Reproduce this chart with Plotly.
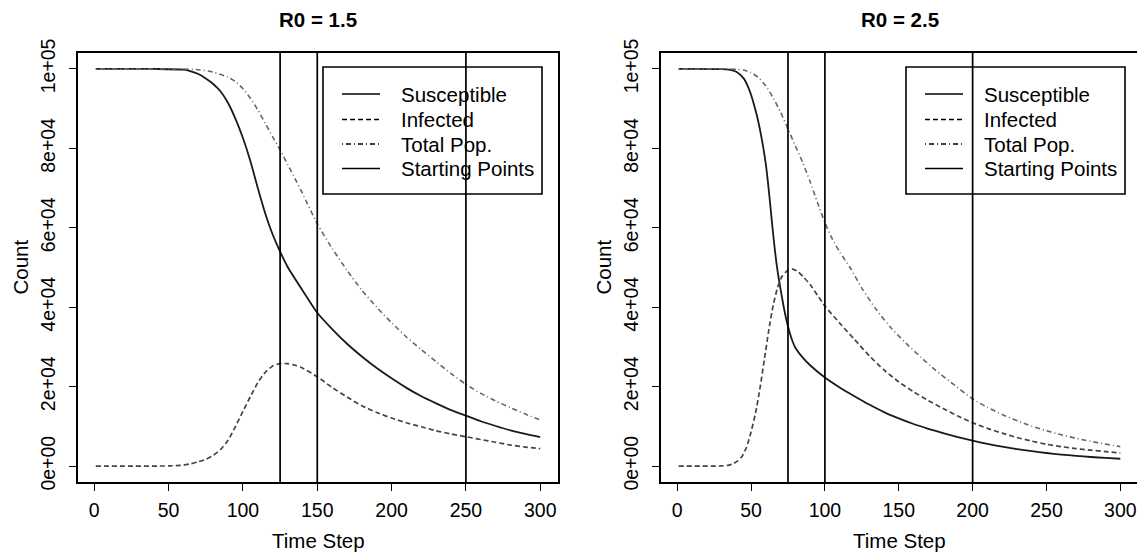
import plotly.graph_objects as go

# ---------------- data ----------------
# R0 = 1.5
t_s1 = [1, 40, 60, 65, 70, 75, 80, 85, 90, 95, 100, 105, 110, 115, 120, 125, 130, 140, 150, 160, 170, 180, 190, 200, 210, 220, 230, 240, 250, 260, 270, 280, 290, 300]
s1 = [100000, 99980, 99800, 99400, 98700, 97600, 96200, 94300, 91400, 87400, 82600, 76800, 70000, 63600, 58300, 54000, 50200, 44300, 38600, 34500, 30800, 27600, 24700, 22100, 19700, 17600, 15800, 14100, 12700, 11300, 10100, 9000, 8100, 7300]
t_i1 = [1, 50, 60, 65, 70, 75, 80, 85, 90, 95, 100, 105, 110, 115, 120, 125, 130, 135, 140, 150, 160, 170, 180, 190, 200, 210, 220, 230, 240, 250, 260, 270, 280, 290, 300]
i1 = [0, 50, 250, 600, 1100, 1700, 2700, 4200, 6500, 10000, 13800, 17500, 21000, 23600, 25200, 25800, 25800, 25400, 24700, 22500, 19800, 17400, 15200, 13500, 12100, 10900, 9900, 8900, 8100, 7400, 6700, 6000, 5300, 4800, 4400]
t_n1 = [1, 60, 70, 80, 90, 95, 100, 105, 110, 115, 120, 125, 130, 135, 140, 150, 160, 170, 180, 190, 200, 210, 220, 230, 240, 250, 260, 270, 280, 290, 300]
n1 = [100000, 99950, 99800, 99200, 97900, 96800, 95000, 92600, 89700, 86300, 82900, 79600, 76000, 72400, 68700, 61000, 54800, 49300, 44300, 40000, 36100, 32500, 29300, 26300, 23300, 20600, 18300, 16400, 14700, 13100, 11600]
start1 = [125, 150, 250]

# R0 = 2.5
t_s2 = [1, 30, 35, 40, 45, 48, 50, 52, 54, 56, 58, 60, 62, 64, 66, 68, 70, 72, 74, 76, 78, 80, 85, 90, 100, 110, 120, 130, 140, 150, 160, 170, 180, 190, 200, 210, 220, 230, 240, 250, 260, 270, 280, 290, 300]
s2 = [100000, 99950, 99800, 99300, 97600, 95500, 93500, 91000, 88200, 84800, 80800, 76000, 69500, 62000, 54800, 49000, 44500, 40300, 36700, 33800, 31500, 29800, 27300, 25400, 22300, 19800, 17600, 15500, 13600, 12000, 10600, 9400, 8300, 7300, 6400, 5600, 4900, 4300, 3800, 3300, 2900, 2600, 2300, 2050, 1850]
t_i2 = [1, 30, 35, 38, 41, 44, 47, 50, 53, 56, 59, 62, 65, 68, 71, 75, 78, 82, 86, 90, 95, 100, 110, 120, 130, 140, 150, 160, 170, 180, 190, 200, 210, 220, 230, 240, 250, 260, 270, 280, 290, 300]
i2 = [0, 50, 250, 600, 1300, 2500, 4800, 8600, 13300, 19500, 26800, 34200, 40500, 45000, 47800, 49300, 49600, 48900, 47400, 45700, 43000, 40300, 36000, 31900, 27800, 24200, 21200, 18700, 16500, 14500, 12600, 10900, 9500, 8300, 7200, 6300, 5500, 4900, 4400, 4000, 3650, 3300]
t_n2 = [1, 35, 40, 45, 50, 55, 60, 65, 70, 75, 80, 85, 90, 95, 100, 105, 110, 117, 125, 135, 145, 155, 165, 175, 185, 200, 210, 220, 236, 250, 260, 270, 286, 300]
n2 = [100000, 99950, 99900, 99700, 99100, 97800, 95700, 92700, 89100, 84900, 80600, 76400, 71600, 66300, 61300, 57200, 53900, 50000, 44800, 39300, 34700, 30900, 27400, 24100, 21200, 16900, 14800, 13000, 10600, 8900, 7900, 7000, 5800, 4900]
start2 = [75, 100, 200]

titles = ["R0 = 1.5", "R0 = 2.5"]
legend_labels = ["Susceptible", "Infected", "Total Pop.", "Starting Points"]
x_ticks = [0, 50, 100, 150, 200, 250, 300]
y_ticks = [0, 20000, 40000, 60000, 80000, 100000]
y_ticktext = ["0e+00", "2e+04", "4e+04", "6e+04", "8e+04", "1e+05"]

# ---------------- layout geometry ----------------
# the page body has an 8px margin, so the figure is sized to fit the window
OFF = 8
W, H = 1145 - OFF, 553 - OFF
FONT = "Liberation Sans, Arial, Helvetica, sans-serif"
def fx(p):
    return (p - OFF) / W
def fy(p):
    return 1 - (p - OFF) / H

panels = [
    dict(xa="x", ya="y", x0=78, x1=558, leg=323),
    dict(xa="x2", ya="y2", x0=661, x1=1138, leg=906),
]
top, bottom = 53, 482

styles = [
    dict(color="#1a1a1a", width=1.8, dash="solid"),
    dict(color="#444444", width=1.7, dash="5px,3px"),
    dict(color="#666666", width=1.6, dash="1px,3px,5px,3px"),
    dict(color="#000000", width=1.6, dash="solid"),
]

fig = go.Figure()
series = [
    [(t_s1, s1), (t_i1, i1), (t_n1, n1)],
    [(t_s2, s2), (t_i2, i2), (t_n2, n2)],
]
starts = [start1, start2]

shapes = []
annotations = []
for k, p in enumerate(panels):
    for j, (tx, vy) in enumerate(series[k]):
        fig.add_trace(go.Scatter(
            x=tx, y=vy, mode="lines", name=legend_labels[j],
            line=dict(color=styles[j]["color"], width=styles[j]["width"],
                      dash=styles[j]["dash"], shape="spline", smoothing=0.6),
            xaxis=p["xa"], yaxis=p["ya"], showlegend=False, hoverinfo="skip"))
    for s in starts[k]:
        shapes.append(dict(type="line", xref=p["xa"], yref=p["ya"] + " domain",
                           x0=s, x1=s, y0=0, y1=1,
                           line=dict(color="black", width=1.7)))
    cx = (p["x0"] + p["x1"]) / 2
    annotations.append(dict(text="<b>" + titles[k] + "</b>", xref="paper", yref="paper",
                            x=fx(cx), y=fy(19), xanchor="center", yanchor="middle",
                            showarrow=False, font=dict(family=FONT, size=20.5, color="black")))
    annotations.append(dict(text="Time Step", xref="paper", yref="paper",
                            x=fx(cx), y=fy(540), xanchor="center", yanchor="middle",
                            showarrow=False, font=dict(family=FONT, size=20.5, color="black")))
    annotations.append(dict(text="Count", xref="paper", yref="paper",
                            x=fx(p["x0"] - 58), y=fy((top + bottom) / 2), xanchor="center",
                            yanchor="middle", textangle=-90,
                            showarrow=False, font=dict(family=FONT, size=20.5, color="black")))
    L = p["leg"]
    shapes.append(dict(type="rect", xref="paper", yref="paper",
                       x0=fx(L), x1=fx(L + 219), y0=fy(194), y1=fy(67),
                       line=dict(color="black", width=1.6), fillcolor="rgba(0,0,0,0)"))
    rows = [94, 119.5, 144, 168.5]
    for j, lab in enumerate(legend_labels):
        st = styles[j]
        shapes.append(dict(type="line", xref="paper", yref="paper",
                           x0=fx(L + 19), x1=fx(L + 57), y0=fy(rows[j]), y1=fy(rows[j]),
                           line=dict(color="black", width=1.6, dash=st["dash"])))
        annotations.append(dict(text=lab, xref="paper", yref="paper",
                                x=fx(L + 76), y=fy(rows[j]), xanchor="left", yanchor="middle",
                                showarrow=False, font=dict(family=FONT, size=20.5, color="black")))

axis_common = dict(showgrid=False, zeroline=False, showline=True, mirror=True,
                   linecolor="black", linewidth=1.6, ticks="outside", ticklen=7,
                   tickwidth=1.4, tickcolor="black", automargin=False,
                   tickfont=dict(family=FONT, size=19.5, color="black"))

layout = dict(
    width=W, height=H, paper_bgcolor="white", plot_bgcolor="white",
    margin=dict(l=0, r=0, t=0, b=0, pad=0, autoexpand=False), showlegend=False,
    shapes=shapes, annotations=annotations,
)
for k, p in enumerate(panels):
    xname = "xaxis" if k == 0 else "xaxis2"
    yname = "yaxis" if k == 0 else "yaxis2"
    layout[xname] = dict(axis_common, domain=[fx(p["x0"]), fx(p["x1"])],
                         range=[-10.96, 311.96], tickvals=x_ticks, anchor=p["ya"],
                         ticklabelstandoff=3)
    layout[yname] = dict(axis_common, domain=[fy(bottom), fy(top)],
                         range=[-4000, 104000], tickvals=y_ticks, ticktext=y_ticktext,
                         tickangle=-90, anchor=p["xa"], ticklabelstandoff=6)

fig.update_layout(**layout)
fig.write_html("out.html")
